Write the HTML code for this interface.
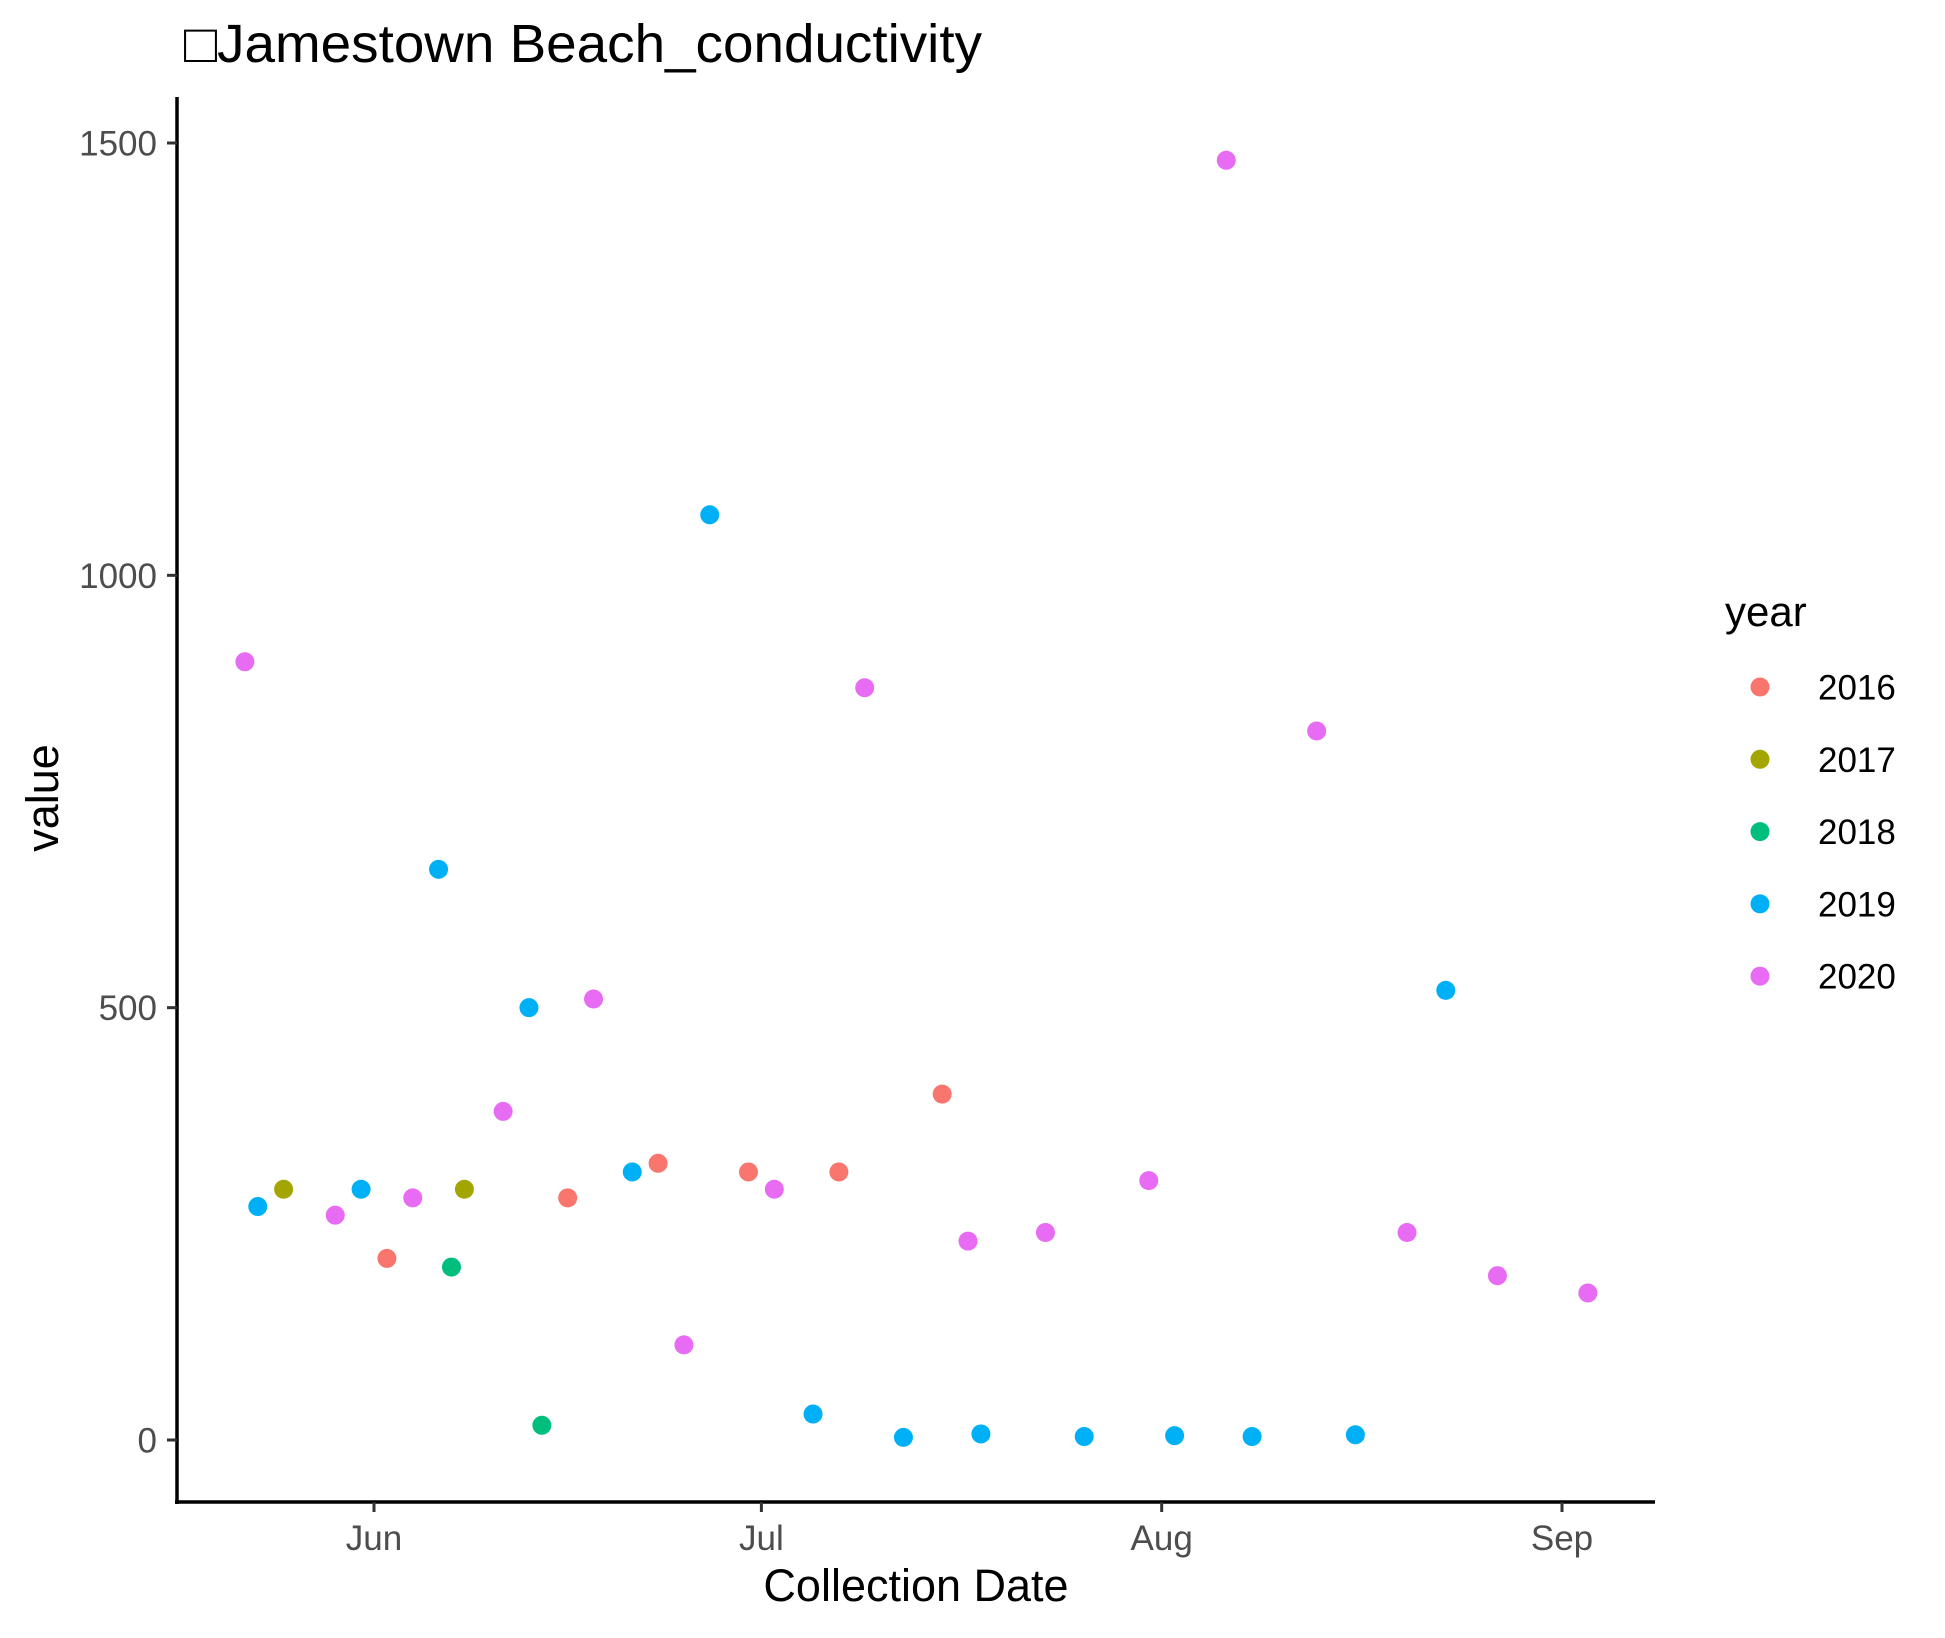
<!DOCTYPE html>
<html><head><meta charset="utf-8"><style>
html,body{margin:0;padding:0;background:#fff;}
svg text{font-family:"Liberation Sans",Arial,sans-serif;}
</style></head><body>
<svg id="chart" width="1945" height="1633" viewBox="0 0 1945 1633" xmlns="http://www.w3.org/2000/svg">
<rect width="1945" height="1633" fill="#fff"/>
<text x="184" y="62" font-size="54" fill="#000" textLength="798" lengthAdjust="spacingAndGlyphs">□Jamestown Beach_conductivity</text>
<g id="plot"></g>
<text x="916" y="1601" font-size="45" text-anchor="middle" fill="#000">Collection Date</text>
<text transform="translate(58,798) rotate(-90)" font-size="45" text-anchor="middle" fill="#000">value</text>
<g id="legend"></g>
</svg>
<script>
const years=["2016","2017","2018","2019","2020"];
const colors=["#F8766D","#A3A500","#00BF7D","#00B0F6","#E76BF3"];
// days since Jun 1
const pointDays=[-10,-9,-7,-3,-1,1,3,5,6,7,10,12,13,15,17,20,22,24,26,29,31,34,36,38,41,44,46,47,52,55,60,62,66,68,73,76,80,83,87,94];
const pointValues=[900,270,290,260,290,210,280,660,200,290,380,500,17,280,510,310,320,110,1070,310,290,30,310,870,3,400,230,7,240,4,300,5,1480,4,820,6,240,520,190,170];
const pointYears=["2020","2019","2017","2020","2019","2016","2020","2019","2018","2017","2020","2019","2018","2016","2020","2019","2016","2020","2019","2016","2020","2019","2016","2020","2019","2016","2020","2019","2020","2019","2020","2019","2020","2019","2020","2019","2020","2019","2020","2020"];
const yTicks=[0,500,1000,1500];
const xTickLabels=["Jun","Jul","Aug","Sep"];
const xTickDays=[0,30,61,92];

const NS="http://www.w3.org/2000/svg";
const xScale=d=>374+d*12.913;
const yScale=v=>1440-v*1297/1500;
const plot=document.getElementById('plot');
function mk(tag,attrs,parent){const e=document.createElementNS(NS,tag);for(const k in attrs)e.setAttribute(k,attrs[k]);parent.appendChild(e);return e;}

const yAxis=mk('line',{x1:177,y1:97,x2:177,y2:1504,stroke:'#000','stroke-width':3.5},plot);


const xAxis=mk('line',{x1:175,y1:1502,x2:1655,y2:1502,stroke:'#000','stroke-width':3.5},plot);



yTicks.forEach(v=>{
  const y=yScale(v);
  const t=mk('line',{x1:167,y1:y,x2:177,y2:y,stroke:'#333','stroke-width':3},plot);
  
  
  const l=mk('text',{x:157,y:y+12.5,'font-size':35,'text-anchor':'end',fill:'#4d4d4d'},plot);
  l.textContent=v;
  
  
});
xTickDays.forEach((d,i)=>{
  const x=xScale(d);
  const t=mk('line',{x1:x,y1:1502,x2:x,y2:1512,stroke:'#333','stroke-width':3},plot);
  
  
  const l=mk('text',{x:x,y:1550,'font-size':35,'text-anchor':'middle',fill:'#4d4d4d'},plot);
  l.textContent=xTickLabels[i];
  
  
});
pointDays.forEach((d,i)=>{
  const c=mk('circle',{cx:xScale(d),cy:yScale(pointValues[i]),r:9.5,fill:colors[years.indexOf(pointYears[i])]},plot);
  
  
});
const lg=document.getElementById('legend');
const lt=mk('text',{x:1725,y:626,'font-size':42,fill:'#000'},lg);
lt.textContent='year';


years.forEach((y,i)=>{
  const cy=687+i*72.3;
  const c=mk('circle',{cx:1760,cy:cy,r:9.5,fill:colors[i]},lg);
  
  
  const t=mk('text',{x:1818,y:cy+12.5,'font-size':35,fill:'#000'},lg);
  t.textContent=y;
  
  
});
</script>
</body></html>
